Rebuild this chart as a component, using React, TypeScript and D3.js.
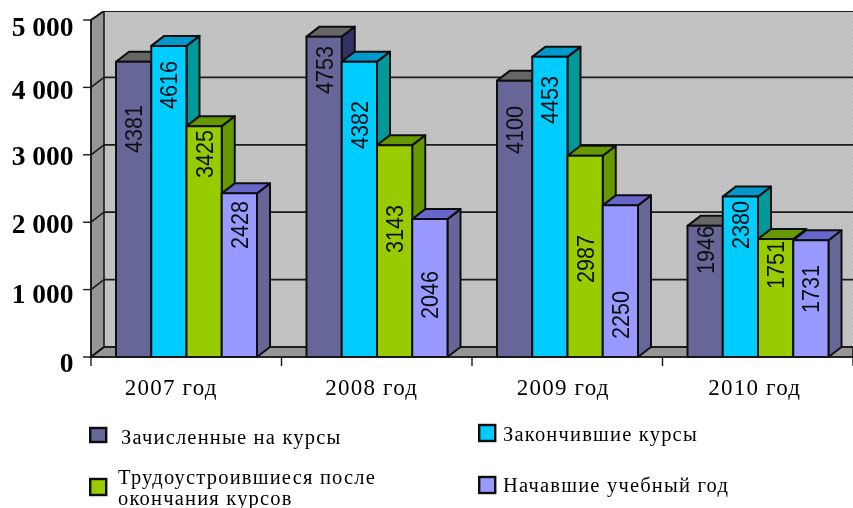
import React from "react";
import * as d3 from "d3";

const categories = ["2007 год", "2008 год", "2009 год", "2010 год"];
const seriesNames = ["Зачисленные на курсы", "Закончившие курсы", "Трудоустроившиеся после", "Начавшие учебный год"];
const enrolled = [4381, 4753, 4100, 1946];
const finished = [4616, 4382, 4453, 2380];
const employed = [3425, 3143, 2987, 1751];
const started = [2428, 2046, 2250, 1731];
const series = [enrolled, finished, employed, started];
// Level (in chart units) at which each hand-placed value label sits in the original
const enrolledLabelAt = [3383, 4258, 3368, 1588];
const finishedLabelAt = [4036, 3442, 3813, 1958];
const employedLabelAt = [3012, 1899, 1454, 1365];
const startedLabelAt = [1958, 920, 623, 1009];
const labelAt = [enrolledLabelAt, finishedLabelAt, employedLabelAt, startedLabelAt];
const yTicks = [0, 1000, 2000, 3000, 4000, 5000];
const yTickLabels = ["0", "1 000", "2 000", "3 000", "4 000", "5 000"];
const yLabelNudge = [6, 4, 2, 1, 3, 7];
const catNudge = [-15, -5, -4, -3];

const fronts = ["#666699", "#00CCFF", "#99CC00", "#9999FF"];
const tops = ["#666666", "#0099CC", "#669900", "#6666CC"];
const sides = ["#333366", "#009999", "#669900", "#666699"];

const W = 853, H = 508;
const DX = 13, DY = 10;
const x0 = d3.scaleBand<string>().domain(categories).range([91, 853]).paddingInner(0).paddingOuter(0);
const y = d3.scaleLinear().domain([0, 5000]).range([357, 20]);
const ink = "#1a1a1a";

export default function App() {
  const gw = x0.bandwidth();
  const x1 = d3.scaleBand<number>().domain([0, 1, 2, 3]).range([25, gw - 24.5]);
  const bw = x1.bandwidth();
  const serif = "'Liberation Serif', serif";
  const sans = "'Liberation Sans', sans-serif";
  const py = (pts: number[][]) => pts.map((p) => p.join(",")).join(" ");
  return (
    <svg width={W} height={H} style={{ position: "absolute", left: 0, top: 0, background: "#fff" }}>
      <defs>
        <pattern id="dots" width="4" height="4" patternUnits="userSpaceOnUse">
          <rect width="4" height="4" fill="#c0c0c0" />
          <rect x="0" y="0" width="1" height="1" fill="#cdcdcd" />
          <rect x="2" y="2" width="1" height="1" fill="#cdcdcd" />
        </pattern>
        <filter id="soft" x="0" y="0" width="100%" height="100%">
          <feGaussianBlur stdDeviation="0.45" />
        </filter>
      </defs>
      <g filter="url(#soft)">
        {/* back wall */}
        <rect x={91 + DX} y={y(5000) - DY + 1} width={W - 91 - DX} height={y(0) - y(5000)} fill="url(#dots)" />
        {/* left wall */}
        <polygon
          points={py([[91, y(5000)], [91 + DX, y(5000) - DY + 1], [91 + DX, y(0) - DY], [91, y(0)]])}
          fill="#969696" stroke={ink} strokeWidth={1.6}
        />
        {/* floor */}
        <polygon
          points={py([[91, y(0)], [91 + DX, y(0) - DY], [W, y(0) - DY], [W, y(0)]])}
          fill="#969696" stroke={ink} strokeWidth={1.6}
        />
        {/* gridlines */}
        {yTicks.map((t) => (
          <g key={t}>
            <line x1={91} y1={y(t)} x2={91 + DX} y2={y(t) - DY + (t === 5000 ? 1 : 0)} stroke={ink} strokeWidth={1.6} />
            <line x1={91 + DX} y1={y(t) - DY + (t === 5000 ? 1 : 0)} x2={W} y2={y(t) - DY + (t === 5000 ? 1 : 0)} stroke={ink} strokeWidth={t === 5000 ? 2 : 1.8} />
            <line x1={83} y1={y(t)} x2={91} y2={y(t)} stroke={ink} strokeWidth={1.4} />
          </g>
        ))}
        {/* bars */}
        {categories.map((c, ci) => {
          const gx = x0(c)!;
          return (
            <g key={c}>
              {series.map((s, si) => {
                const v = s[ci];
                const l = gx + x1(si)!;
                const r = l + bw;
                const t = y(v);
                const b = y(0);
                return (
                  <g key={si} stroke="#111" strokeWidth={2} strokeLinejoin="round">
                    <polygon points={py([[r, t], [r + DX, t - DY], [r + DX, b - DY], [r, b]])} fill={sides[si]} />
                    <polygon points={py([[l, t], [l + DX, t - DY], [r + DX, t - DY], [r, t]])} fill={tops[si]} />
                    <rect x={l} y={t} width={bw} height={b - t} fill={fronts[si]} />
                  </g>
                );
              })}
              {series.map((s, si) => {
                const cx = gx + x1(si)! + bw / 2;
                const cy = y(labelAt[si][ci]);
                return (
                  <text
                    key={si}
                    transform={`translate(${cx + 8.5},${cy}) rotate(-90)`}
                    textAnchor="middle"
                    fontFamily={sans}
                    fontSize={24}
                    textLength={48}
                    lengthAdjust="spacingAndGlyphs"
                    fill="#111"
                  >
                    {s[ci]}
                  </text>
                );
              })}
            </g>
          );
        })}
        {/* y axis */}
        <line x1={91} y1={y(5000)} x2={91} y2={y(0)} stroke={ink} strokeWidth={1.6} />
        <line x1={91} y1={y(0)} x2={W} y2={y(0)} stroke={ink} strokeWidth={1.6} />
        {yTicks.map((t, i) => (
          <text key={t} x={73.5} y={y(t) + yLabelNudge[i] + 9} textAnchor="end" fontFamily={serif} fontWeight="bold" fontSize={27.5} fill="#000">
            {yTickLabels[i]}
          </text>
        ))}
        {/* x axis */}
        {[91, ...categories.map((c) => x0(c)! + gw)].map((px, i) => (
          <line key={i} x1={px} y1={y(0)} x2={px} y2={y(0) + 9} stroke={ink} strokeWidth={1.4} />
        ))}
        {categories.map((c, i) => (
          <text key={c} x={x0(c)! + gw / 2 + catNudge[i]} y={395} textAnchor="middle" fontFamily={serif} fontSize={23} letterSpacing={1.2} fill="#000">
            {c}
          </text>
        ))}
        {/* legend */}
        <g stroke="#111" strokeWidth={2.4}>
          <rect x={90.2} y={428} width={16} height={14} fill={fronts[0]} />
          <rect x={90.2} y={479} width={16} height={16} fill={fronts[2]} />
          <rect x={479.2} y={425} width={16} height={16} fill={fronts[1]} />
          <rect x={479.2} y={477} width={16} height={16} fill={fronts[3]} />
        </g>
        <g fontFamily={serif} fontSize={20.5} letterSpacing={1.2} fill="#000">
          <text x={121} y={444}>{seriesNames[0]}</text>
          <text x={503} y={441}>{seriesNames[1]}</text>
          <text x={118} y={484}>{seriesNames[2]}</text>
          <text x={118} y={505}>окончания курсов</text>
          <text x={503} y={492}>{seriesNames[3]}</text>
        </g>
      </g>
    </svg>
  );
}
